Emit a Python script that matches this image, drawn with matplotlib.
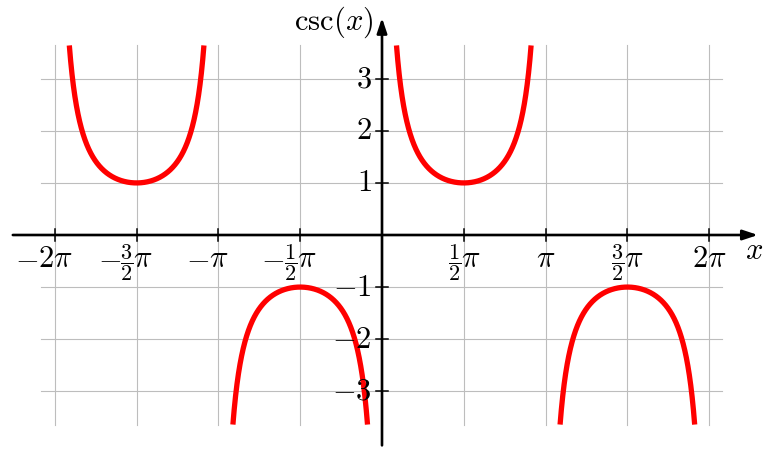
import numpy as np
import matplotlib
matplotlib.use("Agg")
import matplotlib.pyplot as plt
from matplotlib.transforms import IdentityTransform

plt.rcParams['mathtext.fontset'] = 'cm'
plt.rcParams['font.family'] = ['DejaVu Serif']

# Data
x_tick_values = [-2*np.pi, -1.5*np.pi, -np.pi, -0.5*np.pi, 0.5*np.pi, np.pi, 1.5*np.pi, 2*np.pi]
# each label: (sign, fraction or None, multiplier text)
x_tick_labels = [('-', None, r'2\pi'), ('-', '3/2', r'\pi'), ('-', None, r'\pi'), ('-', '1/2', r'\pi'),
                 ('', '1/2', r'\pi'), ('', None, r'\pi'), ('', '3/2', r'\pi'), ('', None, r'2\pi')]
y_tick_values = [-3, -2, -1, 1, 2, 3]
y_tick_labels = [r'$-3$', r'$-2$', r'$-1$', r'$1$', r'$2$', r'$3$']
grid_x = [k*np.pi/2 for k in range(-4, 5)]
grid_y = [-3, -2, -1, 0, 1, 2, 3]
branches = [(-2*np.pi, -np.pi), (-np.pi, 0), (0, np.pi), (np.pi, 2*np.pi)]
y_clip = 3.65
grid_xrange = (-6.55, 6.53)
x_axis_range = (-7.09, 7.22)
y_axis_range = (-4.04, 4.17)

W, H = 768, 451
fig = plt.figure(figsize=(W/100, H/100), dpi=100)
ax = fig.add_axes([0, 0, 1, 1])
scale = 52.07
ox, oy = 382, 235
ax.set_xlim(-ox/scale, (W-ox)/scale)
ax.set_ylim(-(H-oy)/scale, oy/scale)
ax.axis('off')

gc = '#bdbdbd'
for gx in grid_x:
    ax.plot([gx, gx], [-y_clip, y_clip], color=gc, lw=0.8, zorder=1)
for gy in grid_y:
    ax.plot(list(grid_xrange), [gy, gy], color=gc, lw=0.8, zorder=1)

for a, b in branches:
    xs = np.linspace(a + 1e-4, b - 1e-4, 2000)
    ys = 1/np.sin(xs)
    m = np.abs(ys) <= y_clip
    ax.plot(xs[m], ys[m], color='#ff0000', lw=3.8, zorder=3, solid_capstyle='butt')

# axes with arrows
ap = dict(arrowstyle='-|>,head_length=0.9,head_width=0.3', color='black', lw=1.9,
          shrinkA=0, shrinkB=0)
ax.annotate('', xy=(x_axis_range[1], 0), xytext=(x_axis_range[0], 0), arrowprops=ap, zorder=4)
ax.annotate('', xy=(0, y_axis_range[1]), xytext=(0, y_axis_range[0]), arrowprops=ap, zorder=4)

tk = 0.12
fs = 22
fs_frac = 16
fig.canvas.draw()
renderer = fig.canvas.get_renderer()
ident = IdentityTransform()


def width_of(t):
    return t.get_window_extent(renderer=renderer).width


base_y_data = -0.615
for xv, (sign, frac, mult) in zip(x_tick_values, x_tick_labels):
    ax.plot([xv, xv], [-tk, tk], color='black', lw=1.1, zorder=4)
    px, py = ax.transData.transform((xv, base_y_data))
    pieces = []
    if frac is not None:
        n, d = frac.split('/')
        pieces.append(fig.text(0, 0, r'$\dfrac{%s}{%s}$' % (n, d), fontsize=fs_frac,
                               ha='left', va='baseline', transform=ident, zorder=5))
    pieces.append(fig.text(0, 0, r'$%s$' % mult, fontsize=fs, ha='left', va='baseline',
                           transform=ident, zorder=5))
    widths = [width_of(p) for p in pieces]
    total = sum(widths)
    x0 = px - total/2
    cur = x0
    for p, w in zip(pieces, widths):
        p.set_position((cur, py))
        cur += w
    if sign:
        fig.text(x0 + 0.5, py, r'$-$', fontsize=fs, ha='right', va='baseline',
                 transform=ident, zorder=5)

for yv, lab in zip(y_tick_values, y_tick_labels):
    ax.plot([-tk, tk], [yv, yv], color='black', lw=1.1, zorder=4)
    ax.text(-0.2, yv, lab, ha='right', va='center', fontsize=fs, zorder=5)

ax.text(7.15, -0.29, r'$x$', ha='center', va='center', fontsize=fs, zorder=5)
ax.text(-0.17, (oy-22)/scale, r'$\csc(x)$', ha='right', va='center', fontsize=fs, zorder=5)

fig.savefig('out.png', dpi=100)
